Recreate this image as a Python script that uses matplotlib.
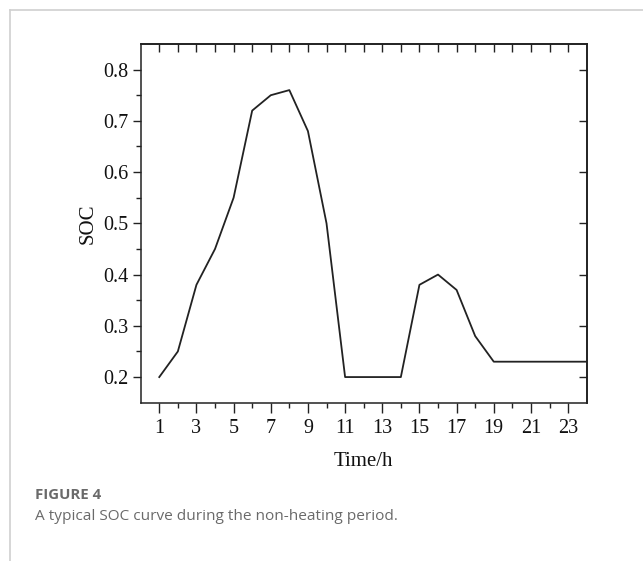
import matplotlib
matplotlib.use("Agg")
import matplotlib.pyplot as plt
from matplotlib.lines import Line2D
from matplotlib.ticker import FixedLocator

hours = list(range(1, 25))
soc = [0.20, 0.25, 0.38, 0.45, 0.55, 0.72, 0.75, 0.76, 0.68, 0.50,
       0.20, 0.20, 0.20, 0.20, 0.38, 0.40, 0.37, 0.28, 0.23, 0.23,
       0.23, 0.23, 0.23, 0.23]
xtick_major = list(range(1, 24, 2))
xtick_minor = list(range(2, 23, 2))
ytick_major = [0.2, 0.3, 0.4, 0.5, 0.6, 0.7, 0.8]
ytick_minor = [0.25, 0.35, 0.45, 0.55, 0.65, 0.75]

serif = ["Liberation Serif", "DejaVu Serif"]

fig = plt.figure(figsize=(6.43, 5.61), dpi=100)
ax = fig.add_axes([0.2188, 0.2822, 0.6936, 0.6394])

ax.plot(hours, soc, color="#222222", lw=1.3)
ax.set_xlim(0, 24)
ax.set_ylim(0.15, 0.85)

ax.xaxis.set_major_locator(FixedLocator(xtick_major))
ax.xaxis.set_minor_locator(FixedLocator(xtick_minor))
ax.yaxis.set_major_locator(FixedLocator(ytick_major))
ax.yaxis.set_minor_locator(FixedLocator(ytick_minor))
ax.set_yticklabels([f"{v:.1f}" for v in ytick_major])
ax.set_xticklabels([str(v) for v in xtick_major])

for lab in ax.get_xticklabels() + ax.get_yticklabels():
    lab.set_family(serif)
    lab.set_fontsize(14.5)
    lab.set_color("#111111")

ax.tick_params(which="major", direction="out", length=6, width=1.0, color="#222222", pad=3)
ax.tick_params(which="minor", direction="out", length=3.5, width=1.0, color="#222222")
ax.tick_params(axis="x", which="major", length=7, pad=5)

for s in ax.spines.values():
    s.set_linewidth(1.1)
    s.set_color("#222222")

top = ax.secondary_xaxis("top")
top.xaxis.set_major_locator(FixedLocator(list(range(1, 24))))
top.tick_params(direction="in", length=5.5, width=1.0, color="#222222", labeltop=False)
top.spines["top"].set_linewidth(1.1)
right = ax.secondary_yaxis("right")
right.yaxis.set_major_locator(FixedLocator(ytick_major))
right.tick_params(direction="in", length=5.5, width=1.0, color="#222222", labelright=False)
right.spines["right"].set_linewidth(1.1)

ax.set_xlabel("Time/h", family=serif, fontsize=15, color="#111111", labelpad=10)
ax.set_ylabel("SOC", family=serif, fontsize=15, color="#111111", labelpad=4)

# page frame
fig.add_artist(Line2D([10/643, 1.0], [1-10/561, 1-10/561], color="#d0d0d0", lw=1.2))
fig.add_artist(Line2D([10/643, 10/643], [0, 1-10/561], color="#d0d0d0", lw=1.2))

fig.text(35/643, 1-495/561, "FIGURE 4", family=["Open Sans", "DejaVu Sans"],
         fontsize=10.8, fontweight="bold", color="#6a6a6a", va="center")
fig.text(35/643, 1-517/561, "A typical SOC curve during the non-heating period.",
         family=["Open Sans", "DejaVu Sans"], fontsize=11.1, color="#6a6a6a", va="center")

fig.savefig("out.png", dpi=100)
